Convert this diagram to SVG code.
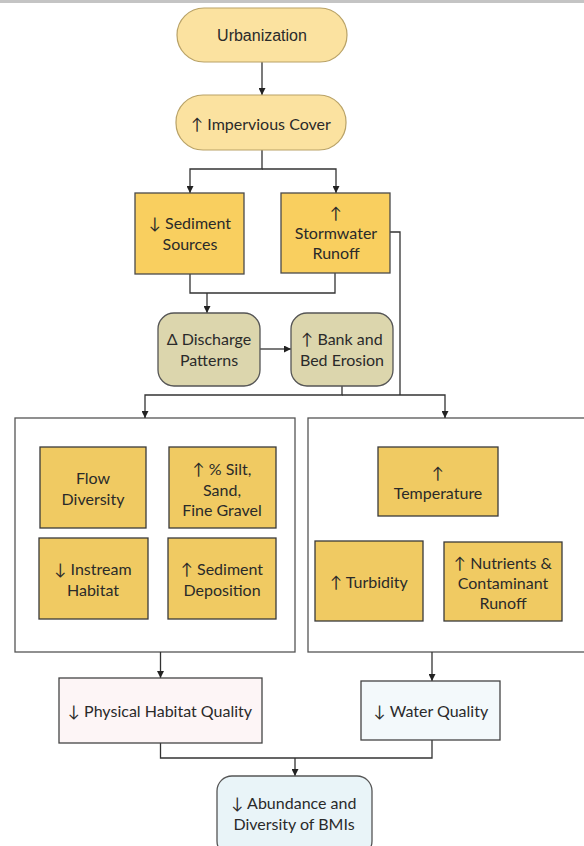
<svg xmlns="http://www.w3.org/2000/svg" width="584" height="846" viewBox="0 0 584 846">
<style>
text{font-family:Lato,"Open Sans","Liberation Sans",sans-serif;font-size:16px;fill:#2a2a2a;text-anchor:middle;dominant-baseline:central}
.arial{font-family:"Liberation Sans",Arial,sans-serif;font-size:16px}
.pill{fill:#fbe2a0;stroke:#b9a266;stroke-width:1.2}
.amber{fill:#f9cf5f;stroke:#4a4a4a;stroke-width:1.3}
.khaki{fill:#dcd6ad;stroke:#555;stroke-width:1.3}
.inner{fill:#f0ca62;stroke:#3a3a3a;stroke-width:1.3}
.group{fill:#fff;stroke:#555;stroke-width:1.3}
.pink{fill:#fdf5f6;stroke:#444;stroke-width:1.3}
.blue{fill:#f3f9fb;stroke:#444;stroke-width:1.3}
.bmi{fill:#e9f4f8;stroke:#555;stroke-width:1.3}
.c{fill:none;stroke:#333;stroke-width:1.3}
</style>
<defs>
<marker id="ah" viewBox="0 0 10 10" refX="10" refY="5" markerWidth="7" markerHeight="7" markerUnits="userSpaceOnUse" orient="auto"><path d="M0,0 L10,5 L0,10 z" fill="#222"/></marker>
</defs>
<rect x="0" y="0" width="584" height="3" fill="#c4c4c4"/>
<g id="groups">
<rect class="group" x="15" y="418" width="280" height="234"/>
<rect class="group" x="308" y="418" width="280" height="234"/>
</g>
<g id="connectors">
<path class="c" d="M262,62 V95" marker-end="url(#ah)"/>
<path class="c" d="M262,150 V169 H190 V193" marker-end="url(#ah)"/>
<path class="c" d="M262,169 H336 V193" marker-end="url(#ah)"/>
<path class="c" d="M190,274 V293 H335 V273"/>
<path class="c" d="M207,293 V313" marker-end="url(#ah)"/>
<path class="c" d="M260,349 H291" marker-end="url(#ah)"/>
<path class="c" d="M390,232 H400 V395"/>
<path class="c" d="M342,386 V395 H145 V418" marker-end="url(#ah)"/>
<path class="c" d="M342,395 H445 V418" marker-end="url(#ah)"/>
<path class="c" d="M160.5,652 V678" marker-end="url(#ah)"/>
<path class="c" d="M432,652 V681" marker-end="url(#ah)"/>
<path class="c" d="M160.5,743 V758 H432 V740"/>
<path class="c" d="M295,758 V776" marker-end="url(#ah)"/>
</g>
<g id="urbanization"><rect class="pill" x="177" y="8" width="170" height="54" rx="27"/><text class="arial" x="262" y="35">Urbanization</text></g>
<g id="impervious"><rect class="pill" x="176" y="95" width="170" height="55" rx="27"/><text x="261" y="123">↑ Impervious Cover</text></g>
<g id="sediment-sources"><rect class="amber" x="135" y="193" width="109" height="81"/><text x="190" y="222">↓ Sediment</text><text x="190" y="243">Sources</text></g>
<g id="stormwater"><rect class="amber" x="281" y="193" width="109" height="80"/><text x="336" y="212">↑</text><text x="336" y="232">Stormwater</text><text x="336" y="252">Runoff</text></g>
<g id="discharge"><rect class="khaki" x="158" y="313" width="102" height="73" rx="16"/><text x="209" y="338">Δ Discharge</text><text x="209" y="359">Patterns</text></g>
<g id="bank"><rect class="khaki" x="291" y="313" width="102" height="73" rx="16"/><text x="342" y="338">↑ Bank and</text><text x="342" y="359">Bed Erosion</text></g>
<g id="flow"><rect class="inner" x="40" y="447" width="106" height="81"/><text x="93" y="477">Flow</text><text x="93" y="498">Diversity</text></g>
<g id="silt"><rect class="inner" x="169" y="447" width="107" height="81"/><text x="222" y="468">↑ % Silt,</text><text x="222" y="489">Sand,</text><text x="222" y="509">Fine Gravel</text></g>
<g id="instream"><rect class="inner" x="39" y="538" width="109" height="81"/><text x="93" y="568">↓ Instream</text><text x="93" y="589">Habitat</text></g>
<g id="deposition"><rect class="inner" x="168" y="538" width="108" height="81"/><text x="222" y="568">↑ Sediment</text><text x="222" y="589">Deposition</text></g>
<g id="temperature"><rect class="inner" x="378" y="447" width="120" height="69"/><text x="438" y="472">↑</text><text x="438" y="492">Temperature</text></g>
<g id="turbidity"><rect class="inner" x="315" y="541" width="108" height="80"/><text x="369" y="581">↑ Turbidity</text></g>
<g id="nutrients"><rect class="inner" x="444" y="542" width="118" height="79"/><text x="503" y="562">↑ Nutrients &amp;</text><text x="503" y="582">Contaminant</text><text x="503" y="602">Runoff</text></g>
<g id="physical"><rect class="pink" x="59" y="678" width="203" height="65"/><text x="160" y="710">↓ Physical Habitat Quality</text></g>
<g id="water"><rect class="blue" x="361" y="681" width="139" height="59"/><text x="431" y="710">↓ Water Quality</text></g>
<g id="bmi"><rect class="bmi" x="217" y="776" width="155" height="80" rx="15"/><text x="294" y="802">↓ Abundance and</text><text x="294" y="823">Diversity of BMIs</text></g>
</svg>
